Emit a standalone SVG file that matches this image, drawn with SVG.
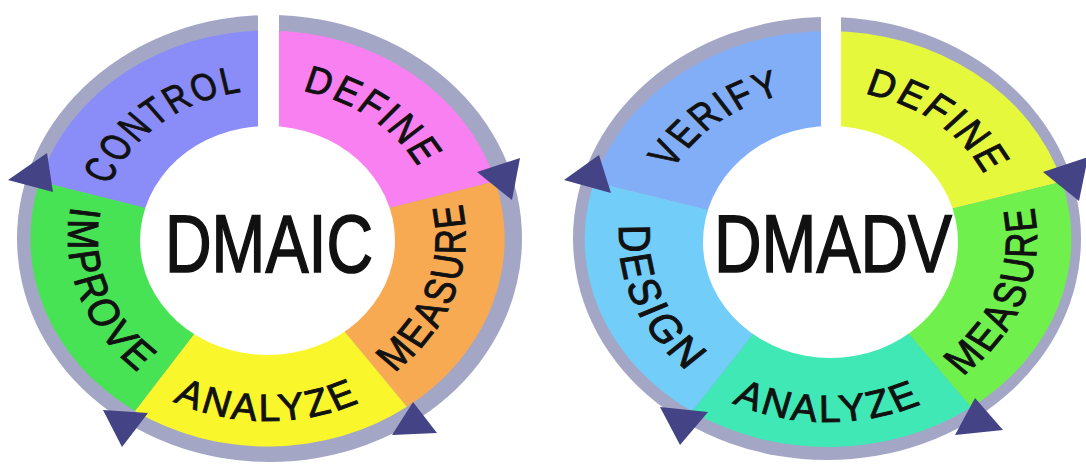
<svg xmlns="http://www.w3.org/2000/svg" width="1086" height="466" viewBox="0 0 1086 466">
<style>
.ring{fill:#a4a6c6}
.lbl{font-family:"Liberation Sans",Arial,sans-serif;font-size:38px;letter-spacing:3px;fill:#111;stroke:#111;stroke-width:0.9}
.ctr{font-family:"Liberation Sans",Arial,sans-serif;font-size:81px;fill:#111;stroke:#111;stroke-width:1.6}
.arrow{fill:#434386}
.gap{fill:#ffffff}
.hole{fill:#ffffff}
</style>
<defs>
<path id="pL-control" d="M -116.2 92.5 A 148.5 148.5 0 0 1 116.2 -92.5"/>
<path id="pL-define" d="M -120.2 -90.6 A 150.5 150.5 0 0 1 120.2 90.6"/>
<path id="pL-measure" d="M -58.1 168.7 A 178.5 178.5 0 0 0 58.1 -168.7"/>
<path id="pL-analyze" d="M -182.5 0 A 182.5 182.5 0 0 0 182.5 0"/>
<path id="pL-improve" d="M -61.4 -168.6 A 179.5 179.5 0 0 0 61.4 168.6"/>
<path id="pR-verify" d="M -117.2 92.9 A 149.5 149.5 0 0 1 117.2 -92.9"/>
<path id="pR-define" d="M -116.2 -92.5 A 148.5 148.5 0 0 1 116.2 92.5"/>
<path id="pR-measure" d="M -60.8 171.5 A 182 182 0 0 0 60.8 -171.5"/>
<path id="pR-analyze" d="M -183 0 A 183 183 0 0 0 183 0"/>
<path id="pR-design" d="M -67.8 -167.8 A 181 181 0 0 0 67.8 167.8"/>
</defs>
<rect width="1086" height="466" fill="#ffffff"/>

<g id="dmaic">
  <ellipse class="ring" cx="269.5" cy="238.5" rx="252.5" ry="223.5"/>
  <g transform="translate(267.5,238.5) scale(1.14,1)">
    <g id="dmaic-define">
      <path fill="#f880f0" d="M0 0 L0 -208 A208 208 0 0 1 199.9 -57.3 Z"/>
      <text class="lbl"><textPath href="#pL-define" startOffset="50%" text-anchor="middle" textLength="133" lengthAdjust="spacingAndGlyphs">DEFINE</textPath></text>
    </g>
    <g id="dmaic-measure">
      <path fill="#f8aa52" d="M0 0 L199.9 -57.3 A208 208 0 0 1 122.3 168.3 Z"/>
      <text class="lbl"><textPath href="#pL-measure" startOffset="50%" text-anchor="middle" textLength="190" lengthAdjust="spacingAndGlyphs">MEASURE</textPath></text>
    </g>
    <g id="dmaic-analyze">
      <path fill="#f9f72c" d="M0 0 L122.3 168.3 A208 208 0 0 1 -116.3 172.4 Z"/>
      <text class="lbl"><textPath href="#pL-analyze" startOffset="50%" text-anchor="middle" textLength="172" lengthAdjust="spacingAndGlyphs">ANALYZE</textPath></text>
    </g>
    <g id="dmaic-improve">
      <path fill="#48e255" d="M0 0 L-116.3 172.4 A208 208 0 0 1 -199.9 -57.3 Z"/>
      <text class="lbl"><textPath href="#pL-improve" startOffset="50%" text-anchor="middle" textLength="186" lengthAdjust="spacingAndGlyphs">IMPROVE</textPath></text>
    </g>
    <g id="dmaic-control">
      <path fill="#8a8df7" d="M0 0 L-199.9 -57.3 A208 208 0 0 1 0 -208 Z"/>
      <text class="lbl"><textPath href="#pL-control" startOffset="50%" text-anchor="middle" textLength="158" lengthAdjust="spacingAndGlyphs">CONTROL</textPath></text>
    </g>
  </g>
  <rect class="gap" x="258" y="0" width="21" height="140"/>
  <ellipse class="hole" cx="267.5" cy="240.5" rx="127.5" ry="114.5"/>
  <text id="dmaic-title" class="ctr" x="165" y="272" textLength="208" lengthAdjust="spacingAndGlyphs">DMAIC</text>
</g>

<g id="dmadv">
  <ellipse class="ring" cx="827" cy="238.5" rx="254" ry="221.5"/>
  <g transform="translate(828,239) scale(1.17,1)">
    <g id="dmadv-define">
      <path fill="#e6f83c" d="M0 0 L0 -208 A208 208 0 0 1 199.9 -57.3 Z"/>
      <text class="lbl"><textPath href="#pR-define" startOffset="50%" text-anchor="middle" textLength="137" lengthAdjust="spacingAndGlyphs">DEFINE</textPath></text>
    </g>
    <g id="dmadv-measure">
      <path fill="#70f04c" d="M0 0 L199.9 -57.3 A208 208 0 0 1 122.3 168.3 Z"/>
      <text class="lbl"><textPath href="#pR-measure" startOffset="50%" text-anchor="middle" textLength="190" lengthAdjust="spacingAndGlyphs">MEASURE</textPath></text>
    </g>
    <g id="dmadv-analyze">
      <path fill="#3fe8b5" d="M0 0 L122.3 168.3 A208 208 0 0 1 -116.3 172.4 Z"/>
      <text class="lbl"><textPath href="#pR-analyze" startOffset="50%" text-anchor="middle" textLength="170" lengthAdjust="spacingAndGlyphs">ANALYZE</textPath></text>
    </g>
    <g id="dmadv-design">
      <path fill="#72cdf9" d="M0 0 L-116.3 172.4 A208 208 0 0 1 -199.9 -57.3 Z"/>
      <text class="lbl"><textPath href="#pR-design" startOffset="50%" text-anchor="middle" textLength="165" lengthAdjust="spacingAndGlyphs">DESIGN</textPath></text>
    </g>
    <g id="dmadv-verify">
      <path fill="#82aef8" d="M0 0 L-199.9 -57.3 A208 208 0 0 1 0 -208 Z"/>
      <text class="lbl"><textPath href="#pR-verify" startOffset="50%" text-anchor="middle" textLength="125" lengthAdjust="spacingAndGlyphs">VERIFY</textPath></text>
    </g>
  </g>
  <rect class="gap" x="821" y="0" width="20" height="140"/>
  <ellipse class="hole" cx="830.5" cy="242" rx="127.5" ry="116"/>
  <text id="dmadv-title" class="ctr" x="714" y="272" textLength="238" lengthAdjust="spacingAndGlyphs">DMADV</text>
</g>

<g id="connectors">
  <polygon class="arrow" points="477,172 520,158 512,200"/>
  <polygon class="arrow" points="413,402 437,433 392,435"/>
  <polygon class="arrow" points="148,413 122,447 103,410"/>
  <polygon class="arrow" points="53,192 8,180 47,153"/>
  <polygon class="arrow" points="1043,172 1088,157 1079,201"/>
  <polygon class="arrow" points="975,398 1003,430 955,435"/>
  <polygon class="arrow" points="708,412 680,445 660,407"/>
  <polygon class="arrow" points="611,193 564,180 599,155"/>
</g>
</svg>
